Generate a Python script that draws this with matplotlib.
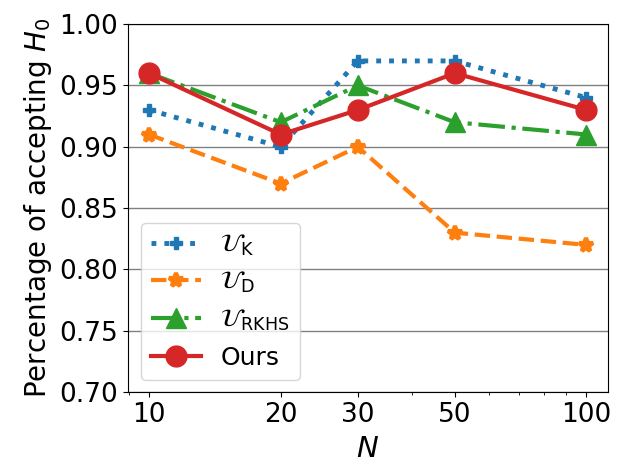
import matplotlib
matplotlib.use("Agg")
import matplotlib.pyplot as plt
from matplotlib.ticker import FixedLocator, NullFormatter, FixedFormatter, LogLocator

N = [10, 20, 30, 50, 100]
u_k = [0.93, 0.90, 0.97, 0.97, 0.94]
u_d = [0.91, 0.87, 0.90, 0.83, 0.82]
u_rkhs = [0.96, 0.92, 0.95, 0.92, 0.91]
ours = [0.96, 0.91, 0.93, 0.96, 0.93]
xticks = [10, 20, 30, 50, 100]
yticks = [0.70, 0.75, 0.80, 0.85, 0.90, 0.95, 1.00]

plt.rcParams['font.size'] = 19
fig, ax = plt.subplots(figsize=(6.4, 4.73), dpi=100)
ax.plot(N, u_k, linestyle=':', marker='P', color='tab:blue', lw=3.5, ms=9, label=r'$\mathcal{U}_{\mathrm{K}}$')
ax.plot(N, u_d, linestyle='--', marker='*', color='tab:orange', lw=3, ms=10, mew=3, label=r'$\mathcal{U}_{\mathrm{D}}$')
ax.plot(N, u_rkhs, linestyle='-.', marker='^', color='tab:green', lw=3, ms=15, label=r'$\mathcal{U}_{\mathrm{RKHS}}$')
ax.plot(N, ours, linestyle='-', marker='o', color='tab:red', lw=3, ms=15, label='Ours')
ax.set_xscale('log')
ax.xaxis.set_major_locator(FixedLocator(xticks))
ax.xaxis.set_major_formatter(FixedFormatter([str(t) for t in xticks]))
ax.xaxis.set_minor_locator(LogLocator(base=10, subs=range(2, 10)))
ax.xaxis.set_minor_formatter(NullFormatter())
ax.set_xlim(8.95, 112)
ax.set_ylim(0.70, 1.00)
ax.set_yticks(yticks)
ax.set_yticklabels([f'{t:.2f}' for t in yticks])
ax.yaxis.grid(True, color='gray', lw=1)
ax.set_axisbelow(True)
ax.set_xlabel(r'$N$', fontsize=21, labelpad=5)
ax.set_ylabel(r'Percentage of accepting $H_0$', fontsize=20)
ax.legend(loc='lower left', fontsize=18)
fig.subplots_adjust(left=0.200, right=0.95, top=0.949, bottom=0.171)
fig.savefig('out.png')
